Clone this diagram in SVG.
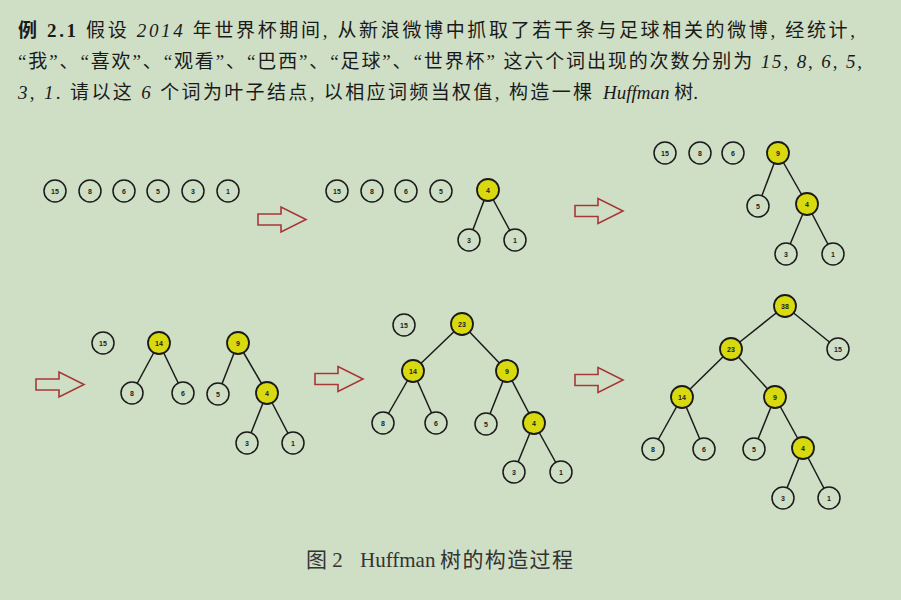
<svg xmlns="http://www.w3.org/2000/svg" xmlns:xlink="http://www.w3.org/1999/xlink" width="901" height="600" viewBox="0 0 901 600">
<style>
.bg{fill:#cfdfc5}
.t{font-family:"Liberation Serif","Noto Sans CJK SC",serif;font-size:19px;fill:#1a1a1a}
.it{font-style:italic}
.b{font-weight:bold}
.cap{font-family:"Liberation Serif","Noto Sans CJK SC",serif;font-size:21px;fill:#333}
.e{stroke:#1a1a1a;stroke-width:1.5;fill:none}
.w{fill:#cfdfc5;stroke:#1a1a1a;stroke-width:1.5}
.y{fill:#d9d90f;stroke:#1a1a1a;stroke-width:1.8}
.l{font-family:"Liberation Sans",Arial,sans-serif;font-size:7px;font-weight:bold;fill:#222;text-anchor:middle;dominant-baseline:central}
.arr{fill:none;stroke:#a83838;stroke-width:1.6;stroke-linejoin:miter}
</style>
<defs>
<polygon id="arrow" class="arr" points="0,-5.5 23,-5.5 23,-12.5 48,0 23,12.5 23,5.5 0,5.5"/>
</defs>
<rect class="bg" x="0" y="0" width="901" height="600"/>

<g id="problem">
<text class="t" x="18" y="37" textLength="837" lengthAdjust="spacing"><tspan class="b">例 2.1</tspan> 假设 <tspan class="it">2014</tspan> 年世界杯期间, 从新浪微博中抓取了若干条与足球相关的微博, 经统计,</text>
<text class="t" x="18" y="68" textLength="844" lengthAdjust="spacing">“我”、“喜欢”、“观看”、“巴西”、“足球”、“世界杯” 这六个词出现的次数分别为 <tspan class="it">15</tspan>, <tspan class="it">8</tspan>, <tspan class="it">6</tspan>, <tspan class="it">5</tspan>,</text>
<text class="t" x="18" y="99" textLength="574" lengthAdjust="spacing"><tspan class="it">3</tspan>, <tspan class="it">1</tspan>. 请以这 <tspan class="it">6</tspan> 个词为叶子结点, 以相应词频当权值, 构造一棵</text>
<text class="t" x="603" y="99"><tspan class="it">Huffman</tspan> 树.</text>
</g>

<g id="arrows">
<use xlink:href="#arrow" transform="translate(258,219.5)"/>
<use xlink:href="#arrow" transform="translate(575,211)"/>
<use xlink:href="#arrow" transform="translate(36,384.5)"/>
<use xlink:href="#arrow" transform="translate(315,379)"/>
<use xlink:href="#arrow" transform="translate(575,380)"/>
</g>

<g id="connectors">
<line class="e" x1="488" y1="190" x2="469" y2="240"/>
<line class="e" x1="488" y1="190" x2="515" y2="240"/>
<line class="e" x1="778" y1="153" x2="758" y2="206"/>
<line class="e" x1="778" y1="153" x2="807" y2="204"/>
<line class="e" x1="807" y1="204" x2="786" y2="254"/>
<line class="e" x1="807" y1="204" x2="833" y2="254"/>
<line class="e" x1="159" y1="343" x2="132" y2="393"/>
<line class="e" x1="159" y1="343" x2="183" y2="393"/>
<line class="e" x1="238" y1="343" x2="218" y2="394"/>
<line class="e" x1="238" y1="343" x2="267" y2="393"/>
<line class="e" x1="267" y1="393" x2="247" y2="443"/>
<line class="e" x1="267" y1="393" x2="293" y2="443"/>
<line class="e" x1="462" y1="324" x2="413" y2="371"/>
<line class="e" x1="462" y1="324" x2="507" y2="371"/>
<line class="e" x1="413" y1="371" x2="383" y2="423"/>
<line class="e" x1="413" y1="371" x2="436" y2="423"/>
<line class="e" x1="507" y1="371" x2="486" y2="424"/>
<line class="e" x1="507" y1="371" x2="534" y2="423"/>
<line class="e" x1="534" y1="423" x2="514" y2="472"/>
<line class="e" x1="534" y1="423" x2="561" y2="472"/>
<line class="e" x1="785" y1="306" x2="731" y2="349"/>
<line class="e" x1="785" y1="306" x2="838" y2="349"/>
<line class="e" x1="731" y1="349" x2="682" y2="397"/>
<line class="e" x1="731" y1="349" x2="775" y2="397"/>
<line class="e" x1="682" y1="397" x2="653" y2="449"/>
<line class="e" x1="682" y1="397" x2="704" y2="449"/>
<line class="e" x1="775" y1="397" x2="754" y2="449"/>
<line class="e" x1="775" y1="397" x2="803" y2="448"/>
<line class="e" x1="803" y1="448" x2="783" y2="498"/>
<line class="e" x1="803" y1="448" x2="829" y2="498"/>
</g>

<g id="s1-15"><circle class="w" cx="55" cy="191" r="11"/><text class="l" x="55" y="191">15</text></g>
<g id="s1-8"><circle class="w" cx="90" cy="191" r="11"/><text class="l" x="90" y="191">8</text></g>
<g id="s1-6"><circle class="w" cx="124" cy="191" r="11"/><text class="l" x="124" y="191">6</text></g>
<g id="s1-5"><circle class="w" cx="158" cy="191" r="11"/><text class="l" x="158" y="191">5</text></g>
<g id="s1-3"><circle class="w" cx="193" cy="191" r="11"/><text class="l" x="193" y="191">3</text></g>
<g id="s1-1"><circle class="w" cx="228" cy="191" r="11"/><text class="l" x="228" y="191">1</text></g>

<g id="s2-15"><circle class="w" cx="337" cy="191" r="11"/><text class="l" x="337" y="191">15</text></g>
<g id="s2-8"><circle class="w" cx="372" cy="191" r="11"/><text class="l" x="372" y="191">8</text></g>
<g id="s2-6"><circle class="w" cx="406" cy="191" r="11"/><text class="l" x="406" y="191">6</text></g>
<g id="s2-5"><circle class="w" cx="441" cy="191" r="11"/><text class="l" x="441" y="191">5</text></g>
<g id="s2-4"><circle class="y" cx="488" cy="190" r="11"/><text class="l" x="488" y="190">4</text></g>
<g id="s2-3"><circle class="w" cx="469" cy="240" r="11"/><text class="l" x="469" y="240">3</text></g>
<g id="s2-1"><circle class="w" cx="515" cy="240" r="11"/><text class="l" x="515" y="240">1</text></g>

<g id="s3-15"><circle class="w" cx="665" cy="153" r="11"/><text class="l" x="665" y="153">15</text></g>
<g id="s3-8"><circle class="w" cx="700" cy="153" r="11"/><text class="l" x="700" y="153">8</text></g>
<g id="s3-6"><circle class="w" cx="733" cy="153" r="11"/><text class="l" x="733" y="153">6</text></g>
<g id="s3-9"><circle class="y" cx="778" cy="153" r="11"/><text class="l" x="778" y="153">9</text></g>
<g id="s3-5"><circle class="w" cx="758" cy="206" r="11"/><text class="l" x="758" y="206">5</text></g>
<g id="s3-4"><circle class="y" cx="807" cy="204" r="11"/><text class="l" x="807" y="204">4</text></g>
<g id="s3-3"><circle class="w" cx="786" cy="254" r="11"/><text class="l" x="786" y="254">3</text></g>
<g id="s3-1"><circle class="w" cx="833" cy="254" r="11"/><text class="l" x="833" y="254">1</text></g>

<g id="s4-15"><circle class="w" cx="103" cy="343" r="11"/><text class="l" x="103" y="343">15</text></g>
<g id="s4-14"><circle class="y" cx="159" cy="343" r="11"/><text class="l" x="159" y="343">14</text></g>
<g id="s4-8"><circle class="w" cx="132" cy="393" r="11"/><text class="l" x="132" y="393">8</text></g>
<g id="s4-6"><circle class="w" cx="183" cy="393" r="11"/><text class="l" x="183" y="393">6</text></g>
<g id="s4-9"><circle class="y" cx="238" cy="343" r="11"/><text class="l" x="238" y="343">9</text></g>
<g id="s4-5"><circle class="w" cx="218" cy="394" r="11"/><text class="l" x="218" y="394">5</text></g>
<g id="s4-4"><circle class="y" cx="267" cy="393" r="11"/><text class="l" x="267" y="393">4</text></g>
<g id="s4-3"><circle class="w" cx="247" cy="443" r="11"/><text class="l" x="247" y="443">3</text></g>
<g id="s4-1"><circle class="w" cx="293" cy="443" r="11"/><text class="l" x="293" y="443">1</text></g>

<g id="s5-15"><circle class="w" cx="404" cy="325" r="11"/><text class="l" x="404" y="325">15</text></g>
<g id="s5-23"><circle class="y" cx="462" cy="324" r="11"/><text class="l" x="462" y="324">23</text></g>
<g id="s5-14"><circle class="y" cx="413" cy="371" r="11"/><text class="l" x="413" y="371">14</text></g>
<g id="s5-9"><circle class="y" cx="507" cy="371" r="11"/><text class="l" x="507" y="371">9</text></g>
<g id="s5-8"><circle class="w" cx="383" cy="423" r="11"/><text class="l" x="383" y="423">8</text></g>
<g id="s5-6"><circle class="w" cx="436" cy="423" r="11"/><text class="l" x="436" y="423">6</text></g>
<g id="s5-5"><circle class="w" cx="486" cy="424" r="11"/><text class="l" x="486" y="424">5</text></g>
<g id="s5-4"><circle class="y" cx="534" cy="423" r="11"/><text class="l" x="534" y="423">4</text></g>
<g id="s5-3"><circle class="w" cx="514" cy="472" r="11"/><text class="l" x="514" y="472">3</text></g>
<g id="s5-1"><circle class="w" cx="561" cy="472" r="11"/><text class="l" x="561" y="472">1</text></g>

<g id="s6-38"><circle class="y" cx="785" cy="306" r="11"/><text class="l" x="785" y="306">38</text></g>
<g id="s6-15"><circle class="w" cx="838" cy="349" r="11"/><text class="l" x="838" y="349">15</text></g>
<g id="s6-23"><circle class="y" cx="731" cy="349" r="11"/><text class="l" x="731" y="349">23</text></g>
<g id="s6-14"><circle class="y" cx="682" cy="397" r="11"/><text class="l" x="682" y="397">14</text></g>
<g id="s6-9"><circle class="y" cx="775" cy="397" r="11"/><text class="l" x="775" y="397">9</text></g>
<g id="s6-8"><circle class="w" cx="653" cy="449" r="11"/><text class="l" x="653" y="449">8</text></g>
<g id="s6-6"><circle class="w" cx="704" cy="449" r="11"/><text class="l" x="704" y="449">6</text></g>
<g id="s6-5"><circle class="w" cx="754" cy="449" r="11"/><text class="l" x="754" y="449">5</text></g>
<g id="s6-4"><circle class="y" cx="803" cy="448" r="11"/><text class="l" x="803" y="448">4</text></g>
<g id="s6-3"><circle class="w" cx="783" cy="498" r="11"/><text class="l" x="783" y="498">3</text></g>
<g id="s6-1"><circle class="w" cx="829" cy="498" r="11"/><text class="l" x="829" y="498">1</text></g>

<g id="caption">
<text class="cap" x="306" y="567">图 2</text>
<text class="cap" x="360" y="567">Huffman</text>
<text class="cap" x="440" y="567" textLength="133" lengthAdjust="spacing">树的构造过程</text>
</g>
</svg>
